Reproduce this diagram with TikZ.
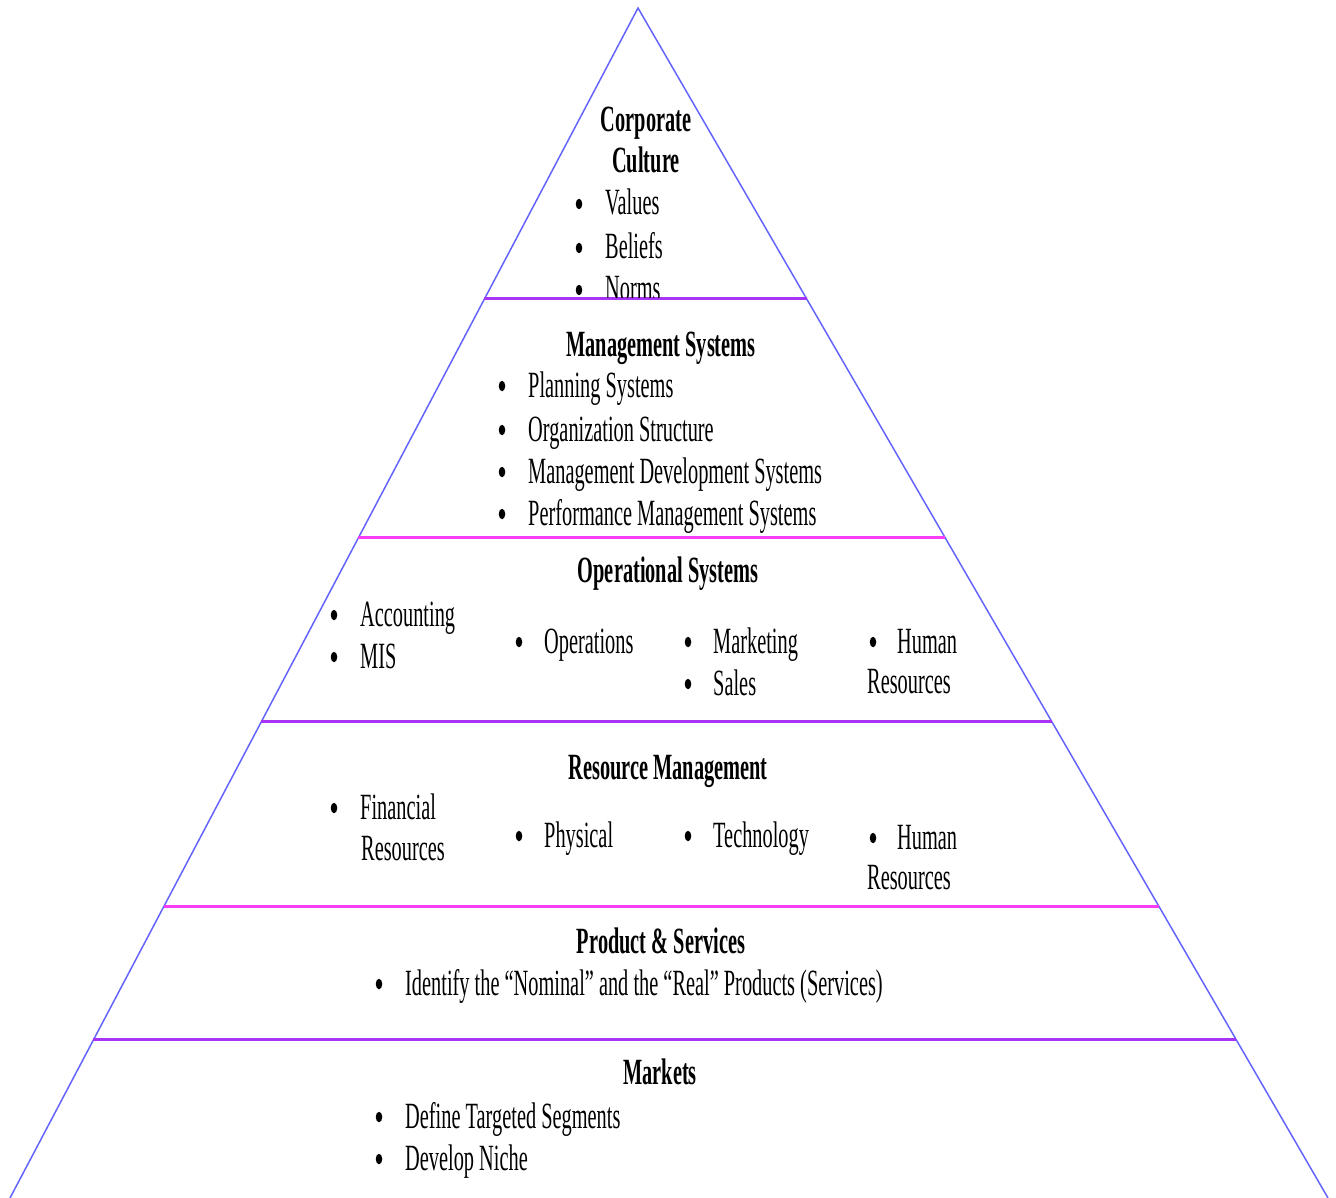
\documentclass[tikz,border=0pt]{standalone}
\usepackage{fontspec}
\setmainfont{Liberation Serif}[FakeStretch=0.55]
\usetikzlibrary{calc,shapes.geometric}

\definecolor{sideblue}{RGB}{100,100,255}
\definecolor{tierpurple}{RGB}{168,52,245}
\definecolor{tiermagenta}{RGB}{245,62,245}

\tikzset{
  side/.style={draw=sideblue, line width=1.5pt},
  tierline/.style={line width=3pt},
  item/.style={inner sep=0pt, anchor=base west, font=\fontsize{37}{43}\selectfont},
  dot/.style={ellipse, fill=black, inner sep=0pt, minimum width=6.5pt, minimum height=10.5pt},
  head/.style={inner sep=0pt, anchor=base, font=\fontsize{37}{43}\selectfont\bfseries},
}

% left and right points of a tier boundary at height #1 (pixels from the top)
\newcommand{\lft}[1]{($(apex)!{(#1-8)/1190}!(bl)$)}
\newcommand{\rgt}[1]{($(apex)!{(#1-8)/1190}!(br)$)}

\begin{document}
\begin{tikzpicture}[x=1pt, y=-1pt]
\useasboundingbox (0,0) rectangle (1336,1198);

\coordinate (apex) at (638,8);
\coordinate (bl) at (10,1198);
\coordinate (br) at (1328,1198);

% pyramid sides
\draw[side] (bl) -- (apex) -- (br);

% tier boundaries
\draw[tierline, tierpurple]  \lft{299}  -- \rgt{299};
\draw[tierline, tiermagenta] \lft{538}  -- \rgt{538};
\draw[tierline, tierpurple]  \lft{722}  -- \rgt{722};
\draw[tierline, tiermagenta] \lft{907}  -- \rgt{907};
\draw[tierline, tierpurple]  \lft{1040} -- \rgt{1040};

% Corporate culture (text stops at the tier line)
\begin{scope}
  \clip (0,0) rectangle (1336,297.5);
  \node[head] (cc1) at (646,132) {Corporate};
  \node[head] (cc2) at (646,173) {Culture};
  \node[dot] (cb1) at (579,204) {};
  \node[item] (cv) at (605,215) {Values};
  \node[dot] (cb2) at (579,248) {};
  \node[item] (cbf) at (605,259) {Beliefs};
  \node[dot] (cb3) at (579,290) {};
  \node[item] (cn) at (605,301) {Norms};
\end{scope}

% Management systems
\node[head] (ms) at (661,356) {Management Systems};
\node[dot] (mb1) at (502,386) {};
\node[item] (m1) at (528,397) {Planning Systems};
\node[dot] (mb2) at (502,430) {};
\node[item] (m2) at (528,441) {Organization Structure};
\node[dot] (mb3) at (502,472) {};
\node[item] (m3) at (528,483) {Management Development Systems};
\node[dot] (mb4) at (502,514) {};
\node[item] (m4) at (528,525) {Performance Management Systems};

% Operational systems
\node[head] (os) at (668,582) {Operational Systems};
\node[dot] (ob1) at (334,615) {};
\node[item] (o1) at (360,626) {Accounting};
\node[dot] (ob2) at (334,657) {};
\node[item] (o2) at (360,668) {MIS};
\node[dot] (ob3) at (519,642) {};
\node[item] (o3) at (544,653) {Operations};
\node[dot] (ob4) at (688,642) {};
\node[item] (o4) at (713,653) {Marketing};
\node[dot] (ob5) at (688,684) {};
\node[item] (o5) at (713,695) {Sales};
\node[dot] (ob6) at (873,642) {};
\node[item] (o6) at (897,653) {Human};
\node[item] (o7) at (867,693) {Resources};

% Resource management
\node[head] (rm) at (668,779) {Resource Management};
\node[dot] (rb1) at (334,808) {};
\node[item] (r1) at (360,819) {Financial};
\node[item] (r2) at (361,860) {Resources};
\node[dot] (rb2) at (519,836) {};
\node[item] (r3) at (544,847) {Physical};
\node[dot] (rb3) at (688,836) {};
\node[item] (r4) at (713,847) {Technology};
\node[dot] (rb4) at (873,838) {};
\node[item] (r5) at (897,849) {Human};
\node[item] (r6) at (867,889) {Resources};

% Product & services
\node[head] (ps) at (661,953) {Product \& Services};
\node[dot] (pb1) at (379,984) {};
\node[item] (p1) at (405,995) {Identify the “Nominal” and the “Real” Products (Services)};

% Markets
\node[head] (mk) at (660,1084) {Markets};
\node[dot] (kb1) at (379,1117) {};
\node[item] (k1) at (405,1128) {Define Targeted Segments};
\node[dot] (kb2) at (379,1159) {};
\node[item] (k2) at (405,1170) {Develop Niche};

\end{tikzpicture}
\end{document}
